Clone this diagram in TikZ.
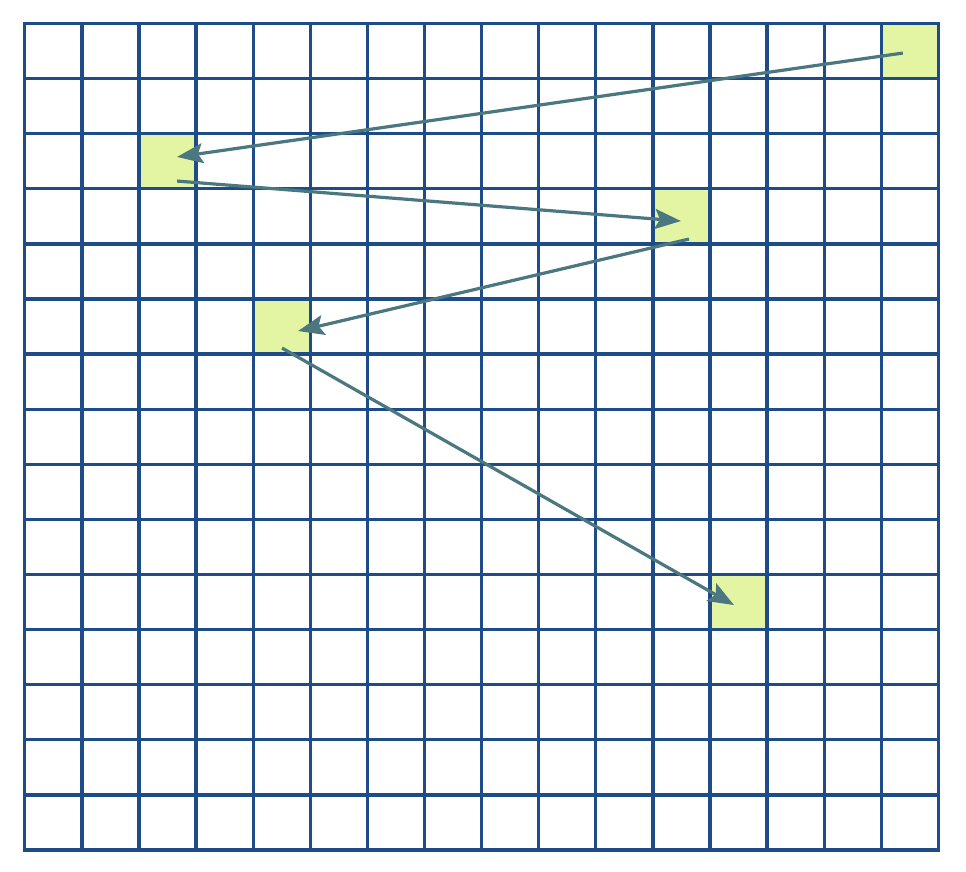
\documentclass[tikz,border=0pt]{standalone}
\usetikzlibrary{arrows.meta,calc}
\definecolor{gridblue}{HTML}{1E4C88}
\definecolor{cellfill}{HTML}{E3F5A3}
\definecolor{arrowcol}{HTML}{4B7880}
\begin{document}
\begin{tikzpicture}[x=1pt,y=-1pt,
  cell/.style={fill=cellfill,draw=none,minimum width=57.1pt,minimum height=55.1pt,inner sep=0pt,outer sep=0pt},
  gridline/.style={draw=gridblue,line width=3.3pt},
  jump/.style={draw=arrowcol,line width=3.2pt,-{Stealth[length=26pt,width=20pt,inset=5pt]}}]
\useasboundingbox (0,0) rectangle (966,872);
\fill[white] (0,0) rectangle (966,872);
% highlighted cells
\node[cell] (c1) at (909.85,51.05) {};
\node[cell] (c2) at (167.55,161.25) {};
\node[cell] (c3) at (681.45,216.35) {};
\node[cell] (c4) at (281.75,326.55) {};
\node[cell] (c5) at (738.6,602.05) {};
% grid
\foreach \i in {0,...,16}
  \draw[gridline] ({24.8+57.1*\i},23.5) -- ({24.8+57.1*\i},850);
\foreach \j in {0,...,15}
  \draw[gridline] (24.8,{23.5+55.1*\j}) -- (938.4,{23.5+55.1*\j});
\draw[gridline,line cap=rect] (24.8,23.5) rectangle (938.4,850);
% arrow end points
\coordinate (s1) at ($(c1)+(-7,2)$);
\coordinate (e1) at ($(c2)+(9.5,-4.3)$);
\coordinate (s2) at ($(c2)+(9.5,19.8)$);
\coordinate (e2) at ($(c3)+(-0.5,4.7)$);
\coordinate (s3) at ($(c3)+(7.5,22.7)$);
\coordinate (e3) at ($(c4)+(16.3,4.5)$);
\coordinate (s4) at ($(c4)+(0.3,21.5)$);
\coordinate (e4) at ($(c5)+(-4.6,3)$);
\draw[jump] (s1) -- (e1);
\draw[jump] (s2) -- (e2);
\draw[jump] (s3) -- (e3);
\draw[jump] (s4) -- (e4);
\end{tikzpicture}
\end{document}
